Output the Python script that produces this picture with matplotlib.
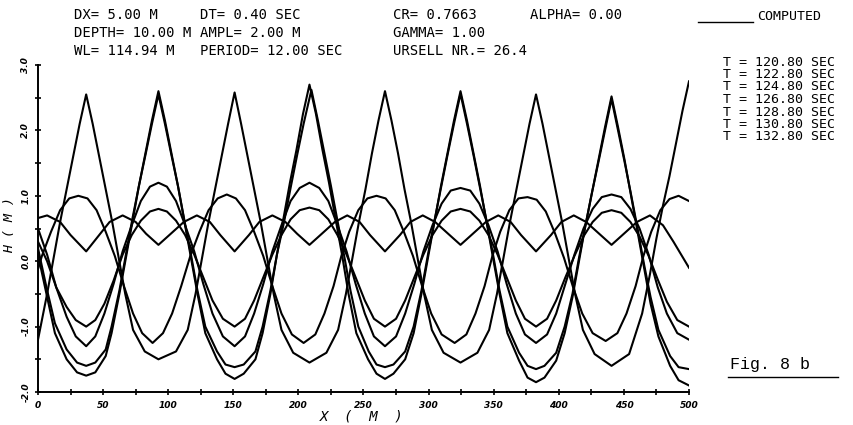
import matplotlib
matplotlib.use("Agg")
import matplotlib.pyplot as plt

# ---------------- data (x in m, surface elevation in m) ----------------
t120 = [(0, 0.1), (6.5, -0.5), (13, -1.1), (22, -1.5), (30, -1.7), (37, -1.75), (44, -1.7), (52, -1.45),
        (56.5, -1.1), (62.5, -0.5), (67.5, 0.05), (72.5, 0.6), (77.5, 1.15), (82.5, 1.65), (87.5, 2.15),
        (92.5, 2.6), (97.5, 2.15), (102.5, 1.65), (107.5, 1.15), (112.5, 0.6), (117.5, 0.05), (122.5, -0.5),
        (128.5, -1.1), (137.5, -1.5), (144, -1.72), (151, -1.8), (158, -1.72), (167, -1.5), (172.5, -1.1),
        (178.5, -0.5), (183.5, 0.1), (188.5, 0.65), (193.5, 1.2), (198.5, 1.7), (203.5, 2.25), (208.5, 2.7),
        (213.5, 2.25), (218.5, 1.7), (223.5, 1.2), (228.5, 0.65), (233.5, 0.1), (238.5, -0.5), (244.5, -1.1),
        (253.5, -1.5), (260, -1.72), (266.5, -1.8), (273, -1.72), (282, -1.5), (288.5, -1.1), (294.5, -0.5),
        (299.5, 0.05), (304.5, 0.6), (309.5, 1.15), (314.5, 1.65), (319.5, 2.15), (324.5, 2.6), (329.5, 2.15),
        (334.5, 1.65), (339.5, 1.15), (344.5, 0.6), (349.5, 0.05), (354.5, -0.5), (360.5, -1.1), (369.5, -1.52),
        (376, -1.78), (382.5, -1.85), (389, -1.78), (398, -1.52), (404.5, -1.1), (410.5, -0.55), (415.5, 0.0),
        (420.5, 0.55), (425.5, 1.05), (430.5, 1.55), (435.5, 2.05), (440.5, 2.52), (445.5, 2.05), (450.5, 1.55),
        (455.5, 1.0), (460.5, 0.45), (465.5, -0.1), (470.5, -0.65), (476.5, -1.15), (485.5, -1.6), (492, -1.82),
        (500, -1.9)]
t122 = [(0, 0.5), (7, 0.1), (14, -0.4), (22, -0.85), (29, -1.15), (37, -1.3), (44, -1.15), (51, -0.8),
        (58, -0.35), (65, 0.15), (72, 0.55), (79, 0.92), (86, 1.14), (92.5, 1.2), (99, 1.14), (106, 0.92),
        (113, 0.55), (120, 0.15), (127, -0.35), (134, -0.8), (142, -1.15), (151, -1.3), (159, -1.15),
        (166, -0.8), (173, -0.35), (180, 0.15), (187, 0.55), (194, 0.92), (201, 1.12), (208.5, 1.2),
        (216, 1.12), (223, 0.92), (230, 0.55), (237, 0.15), (244, -0.35), (251, -0.8), (258, -1.15),
        (266.5, -1.3), (275, -1.15), (282, -0.8), (289, -0.35), (296, 0.15), (303, 0.55), (310, 0.88),
        (317, 1.08), (324.5, 1.12), (332, 1.08), (339, 0.88), (346, 0.55), (353, 0.15), (360, -0.35),
        (367, -0.8), (374, -1.12), (382.5, -1.25), (391, -1.12), (398, -0.8), (405, -0.35), (412, 0.1),
        (419, 0.5), (426, 0.8), (433, 0.98), (440.5, 1.02), (448, 0.98), (455, 0.8), (462, 0.5), (469, 0.1),
        (476, -0.4), (483, -0.8), (491, -1.1), (500, -1.2)]
t124 = [(0, -0.12), (3, 0.08), (10, 0.45), (17, 0.78), (24, 0.96), (31, 1.0), (38, 0.96), (45, 0.78),
        (52, 0.45), (59, 0.08), (66, -0.38), (73, -0.8), (80, -1.1), (88, -1.25), (96, -1.1), (103, -0.8),
        (110, -0.38), (117, 0.08), (124, 0.45), (131, 0.78), (138, 0.96), (145, 1.02), (152, 0.96),
        (159, 0.78), (166, 0.45), (173, 0.08), (180, -0.38), (187, -0.8), (195, -1.12), (204, -1.25),
        (213, -1.12), (220, -0.8), (227, -0.38), (233, 0.08), (239, 0.45), (246, 0.78), (253, 0.96),
        (260, 1.0), (267, 0.96), (274, 0.78), (281, 0.45), (288, 0.08), (295, -0.38), (302, -0.8),
        (310, -1.12), (320, -1.25), (329, -1.12), (336, -0.8), (343, -0.38), (349, 0.08), (355, 0.45),
        (362, 0.78), (369, 0.96), (376, 0.98), (383, 0.94), (390, 0.76), (397, 0.43), (404, 0.05),
        (411, -0.4), (418, -0.8), (426, -1.1), (436, -1.22), (445, -1.1), (452, -0.8), (459, -0.38),
        (465, 0.08), (471, 0.45), (478, 0.78), (485, 0.95), (492, 1.0), (500, 0.92)]
t126 = [(0, -1.2), (7, -0.5), (12, 0.05), (17, 0.6), (22, 1.1), (27, 1.6), (32, 2.1), (37, 2.55), (42, 2.1),
        (47, 1.6), (52, 1.1), (57, 0.6), (62, 0.05), (67, -0.5), (73, -1.05), (82, -1.38), (92.5, -1.5),
        (106, -1.38), (115, -1.05), (121, -0.5), (126, 0.05), (131, 0.6), (136, 1.1), (141, 1.6), (146, 2.1),
        (151, 2.58), (156, 2.1), (161, 1.6), (166, 1.1), (171, 0.6), (176, 0.05), (181, -0.5), (187, -1.05),
        (196, -1.4), (208.5, -1.55), (221.5, -1.4), (230.5, -1.05), (236.5, -0.5), (241.5, 0.05), (246.5, 0.6),
        (251.5, 1.1), (256.5, 1.65), (261.5, 2.15), (266.5, 2.6), (271.5, 2.15), (276.5, 1.65), (281.5, 1.1),
        (286.5, 0.6), (291.5, 0.05), (296.5, -0.5), (302.5, -1.05), (311.5, -1.4), (324.5, -1.55),
        (337.5, -1.4), (346.5, -1.05), (352.5, -0.5), (357.5, 0.05), (362.5, 0.6), (367.5, 1.1), (372.5, 1.6),
        (377.5, 2.1), (382.5, 2.55), (387.5, 2.1), (392.5, 1.6), (397.5, 1.1), (402.5, 0.6), (407.5, 0.05),
        (412.5, -0.5), (418.5, -1.05), (427.5, -1.42), (440.5, -1.6), (454, -1.42), (464, -0.8), (470, -0.2),
        (475, 0.35), (480, 0.85), (485, 1.3), (490, 1.8), (495, 2.3), (500, 2.75)]
t128 = [(0, 0.66), (7, 0.7), (17, 0.6), (25, 0.4), (37, 0.15), (47, 0.4), (55, 0.6), (65, 0.7), (75, 0.6),
        (83, 0.42), (92.5, 0.25), (102, 0.42), (112, 0.6), (122, 0.7), (132, 0.6), (140, 0.4), (151, 0.15),
        (162, 0.4), (170, 0.6), (180, 0.7), (190, 0.6), (199, 0.42), (208.5, 0.25), (218, 0.42), (228, 0.6),
        (237.5, 0.7), (247, 0.6), (255, 0.4), (266.5, 0.15), (278, 0.4), (286, 0.6), (295.5, 0.7), (305, 0.6),
        (315, 0.42), (324.5, 0.25), (334, 0.42), (344, 0.6), (353.5, 0.7), (363, 0.6), (371, 0.4),
        (382.5, 0.15), (394, 0.4), (402, 0.6), (411.5, 0.7), (421, 0.6), (431, 0.42), (440.5, 0.25),
        (450, 0.42), (460, 0.6), (470, 0.7), (480, 0.55), (488, 0.3), (500, -0.1)]
t130 = [(0, 0.3), (7, 0.0), (14, -0.4), (22, -0.7), (29, -0.9), (37, -1.0), (44, -0.9), (51, -0.65),
        (58, -0.3), (65, 0.1), (72, 0.4), (79, 0.62), (86, 0.76), (92.5, 0.8), (99, 0.76), (106, 0.62),
        (113, 0.4), (120, 0.1), (127, -0.25), (134, -0.6), (142, -0.88), (151, -1.0), (159, -0.88),
        (166, -0.6), (173, -0.25), (180, 0.1), (187, 0.4), (194, 0.64), (201, 0.78), (208.5, 0.82),
        (216, 0.78), (223, 0.64), (230, 0.4), (237, 0.1), (244, -0.25), (251, -0.6), (258, -0.88),
        (266.5, -1.0), (275, -0.88), (282, -0.6), (289, -0.25), (296, 0.1), (303, 0.4), (310, 0.62),
        (317, 0.76), (324.5, 0.8), (332, 0.76), (339, 0.62), (346, 0.4), (353, 0.1), (360, -0.25),
        (367, -0.6), (374, -0.88), (382.5, -1.0), (391, -0.88), (398, -0.6), (405, -0.25), (412, 0.08),
        (419, 0.38), (426, 0.6), (433, 0.74), (440.5, 0.78), (448, 0.74), (455, 0.6), (462, 0.38),
        (469, 0.08), (476, -0.28), (483, -0.62), (491, -0.9), (500, -1.0)]
t132 = [(0, 0.2), (6.5, -0.4), (13, -0.95), (22, -1.35), (30, -1.55), (37, -1.6), (44, -1.55), (52, -1.35),
        (56.5, -1.0), (62.5, -0.45), (67.5, 0.1), (72.5, 0.65), (77.5, 1.15), (82.5, 1.62), (87.5, 2.1),
        (92.5, 2.55), (97.5, 2.1), (102.5, 1.62), (107.5, 1.15), (112.5, 0.62), (117.5, 0.1), (122.5, -0.45),
        (128.5, -1.0), (137.5, -1.38), (144, -1.58), (151, -1.62), (158, -1.58), (167, -1.38), (172.5, -1.0),
        (178.5, -0.45), (183.5, 0.1), (189, 0.6), (194, 1.12), (199, 1.62), (204, 2.1), (210, 2.62),
        (215, 2.15), (220, 1.65), (225, 1.15), (230, 0.62), (235, 0.1), (240, -0.45), (246, -1.0),
        (254, -1.38), (260, -1.58), (266.5, -1.62), (273, -1.58), (282, -1.38), (288.5, -1.0), (294.5, -0.45),
        (299.5, 0.1), (304.5, 0.62), (309.5, 1.12), (314.5, 1.62), (319.5, 2.1), (324.5, 2.56), (329.5, 2.1),
        (334.5, 1.62), (339.5, 1.12), (344.5, 0.62), (349.5, 0.1), (354.5, -0.45), (360.5, -1.0),
        (369.5, -1.4), (376, -1.6), (382.5, -1.65), (389, -1.6), (398, -1.4), (404.5, -1.0), (410.5, -0.5),
        (415.5, 0.05), (420.5, 0.55), (425.5, 1.05), (430.5, 1.52), (435.5, 2.0), (440.5, 2.48),
        (445.5, 2.0), (450.5, 1.52), (455.5, 1.02), (460.5, 0.5), (465.5, -0.05), (470.5, -0.55),
        (476.5, -1.05), (485.5, -1.45), (492, -1.62), (500, -1.65)]

curves = [t120, t122, t124, t126, t128, t130, t132]

x_ticks = [0, 50, 100, 150, 200, 250, 300, 350, 400, 450, 500]
x_tick_labels = ["0", "50", "100", "150", "200", "250", "300", "350", "400", "450", "500"]
y_ticks = [-2.0, -1.0, 0.0, 1.0, 2.0, 3.0]
y_tick_labels = ["-2.0", "-1.0", "0.0", "1.0", "2.0", "3.0"]

header = [
    ["DX= 5.00 M", "DT= 0.40 SEC", "CR= 0.7663", "ALPHA= 0.00"],
    ["DEPTH= 10.00 M", "AMPL= 2.00 M", "GAMMA= 1.00"],
    ["WL= 114.94 M", "PERIOD= 12.00 SEC", "URSELL NR.= 26.4"],
]
legend_times = ["T = 120.80 SEC", "T = 122.80 SEC", "T = 124.80 SEC", "T = 126.80 SEC",
                "T = 128.80 SEC", "T = 130.80 SEC", "T = 132.80 SEC"]

# ---------------- figure ----------------
W, H = 854, 425
fig = plt.figure(figsize=(W / 100, H / 100), dpi=100)
ax = fig.add_axes([38 / W, 1 - 392 / H, (689 - 38) / W, (392 - 65) / H])

for pts in curves:
    xs = [p[0] for p in pts]
    ys = [p[1] for p in pts]
    ax.plot(xs, ys, color="black", lw=1.5)

ax.set_xlim(0, 500)
ax.set_ylim(-2.0, 3.0)
for s in ("top", "right"):
    ax.spines[s].set_visible(False)
for s in ("left", "bottom"):
    ax.spines[s].set_linewidth(1.4)

ax.set_xticks(x_ticks)
ax.set_xticks([25 + 50 * i for i in range(10)], minor=True)
ax.set_xticklabels(x_tick_labels, fontsize=6.5, fontstyle="italic", fontweight="bold")
ax.set_yticks(y_ticks)
ax.set_yticks([-1.5, -0.5, 0.5, 1.5, 2.5], minor=True)
ax.set_yticklabels(y_tick_labels, fontsize=6.5, fontstyle="italic", fontweight="bold",
                   rotation=90, va="center")
ax.tick_params(which="both", direction="inout", length=5, width=1.2)
ax.tick_params(axis="y", pad=3)
ax.tick_params(axis="x", pad=4)

mono = "DejaVu Sans Mono"
fig.text(362 / W, 1 - 416 / H, "X  (  M  )", ha="center", va="center", fontsize=10,
         fontstyle="italic", family=mono)
fig.text(10 / W, 1 - 225 / H, "H ( M )", ha="center", va="center", fontsize=9.5,
         fontstyle="italic", rotation=90, family=mono)

col_x = [74, 200, 393, 530]
row_y = [15, 33, 51]
for r, row in enumerate(header):
    for c, txt in enumerate(row):
        fig.text(col_x[c] / W, 1 - row_y[r] / H, txt, ha="left", va="center",
                 fontsize=10, family=mono)

fig.add_artist(plt.Line2D([698 / W, 753 / W], [1 - 22 / H, 1 - 22 / H], color="black", lw=1.0))
fig.text(757 / W, 1 - 17 / H, "COMPUTED", ha="left", va="center", fontsize=9.5, family=mono)

leg_y0, leg_dy = 62, 12.5
for i, txt in enumerate(legend_times):
    fig.text(723 / W, 1 - (leg_y0 + i * leg_dy) / H, txt, ha="left", va="center",
             fontsize=9.5, family=mono)

fig.text(730 / W, 1 - 365 / H, "Fig. 8 b", ha="left", va="center", fontsize=12,
         family="Liberation Mono")
fig.add_artist(plt.Line2D([728 / W, 838 / W], [1 - 377 / H, 1 - 377 / H], color="black", lw=1.0))

fig.savefig("out.png", dpi=100)
